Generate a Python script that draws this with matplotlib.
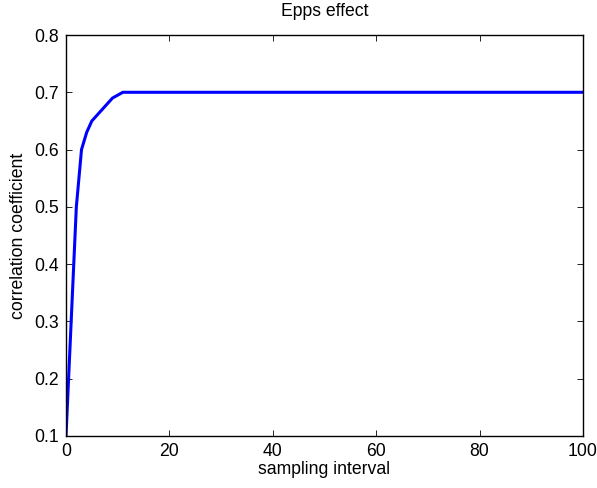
import matplotlib
matplotlib.use("Agg")
import matplotlib.pyplot as plt

plt.rcParams['font.family'] = ['Liberation Sans', 'DejaVu Sans']

interval = [0, 2, 3, 4, 5, 7, 9, 11, 100]
corr = [0.1, 0.5, 0.6, 0.63, 0.65, 0.67, 0.69, 0.7, 0.7]

FS = 12.7
fig = plt.figure(figsize=(5.97, 4.88), dpi=100)
ax = fig.add_axes([66/597, 1-436/488, (583-66)/597, (436-35)/488])
ax.plot(interval, corr, color='#0000ff', linewidth=2.2)
ax.set_xlim(0, 100)
ax.set_ylim(0.1, 0.8)
ax.set_xticks([0, 20, 40, 60, 80, 100])
ax.set_yticks([0.1, 0.2, 0.3, 0.4, 0.5, 0.6, 0.7, 0.8])
ax.set_yticklabels(['0.1', '0.2', '0.3', '0.4', '0.5', '0.6', '0.7', '0.8'])
ax.tick_params(direction='in', top=True, right=True, labelsize=FS, length=4, width=0.6, pad=5)
for s in ax.spines.values():
    s.set_linewidth(1.0)
ax.set_xlabel('sampling interval', fontsize=FS, labelpad=1)
ax.set_ylabel('correlation coefficient', fontsize=FS, labelpad=5)
ax.set_title('Epps effect', fontsize=FS, pad=14)
fig.savefig('out.png', dpi=100)
